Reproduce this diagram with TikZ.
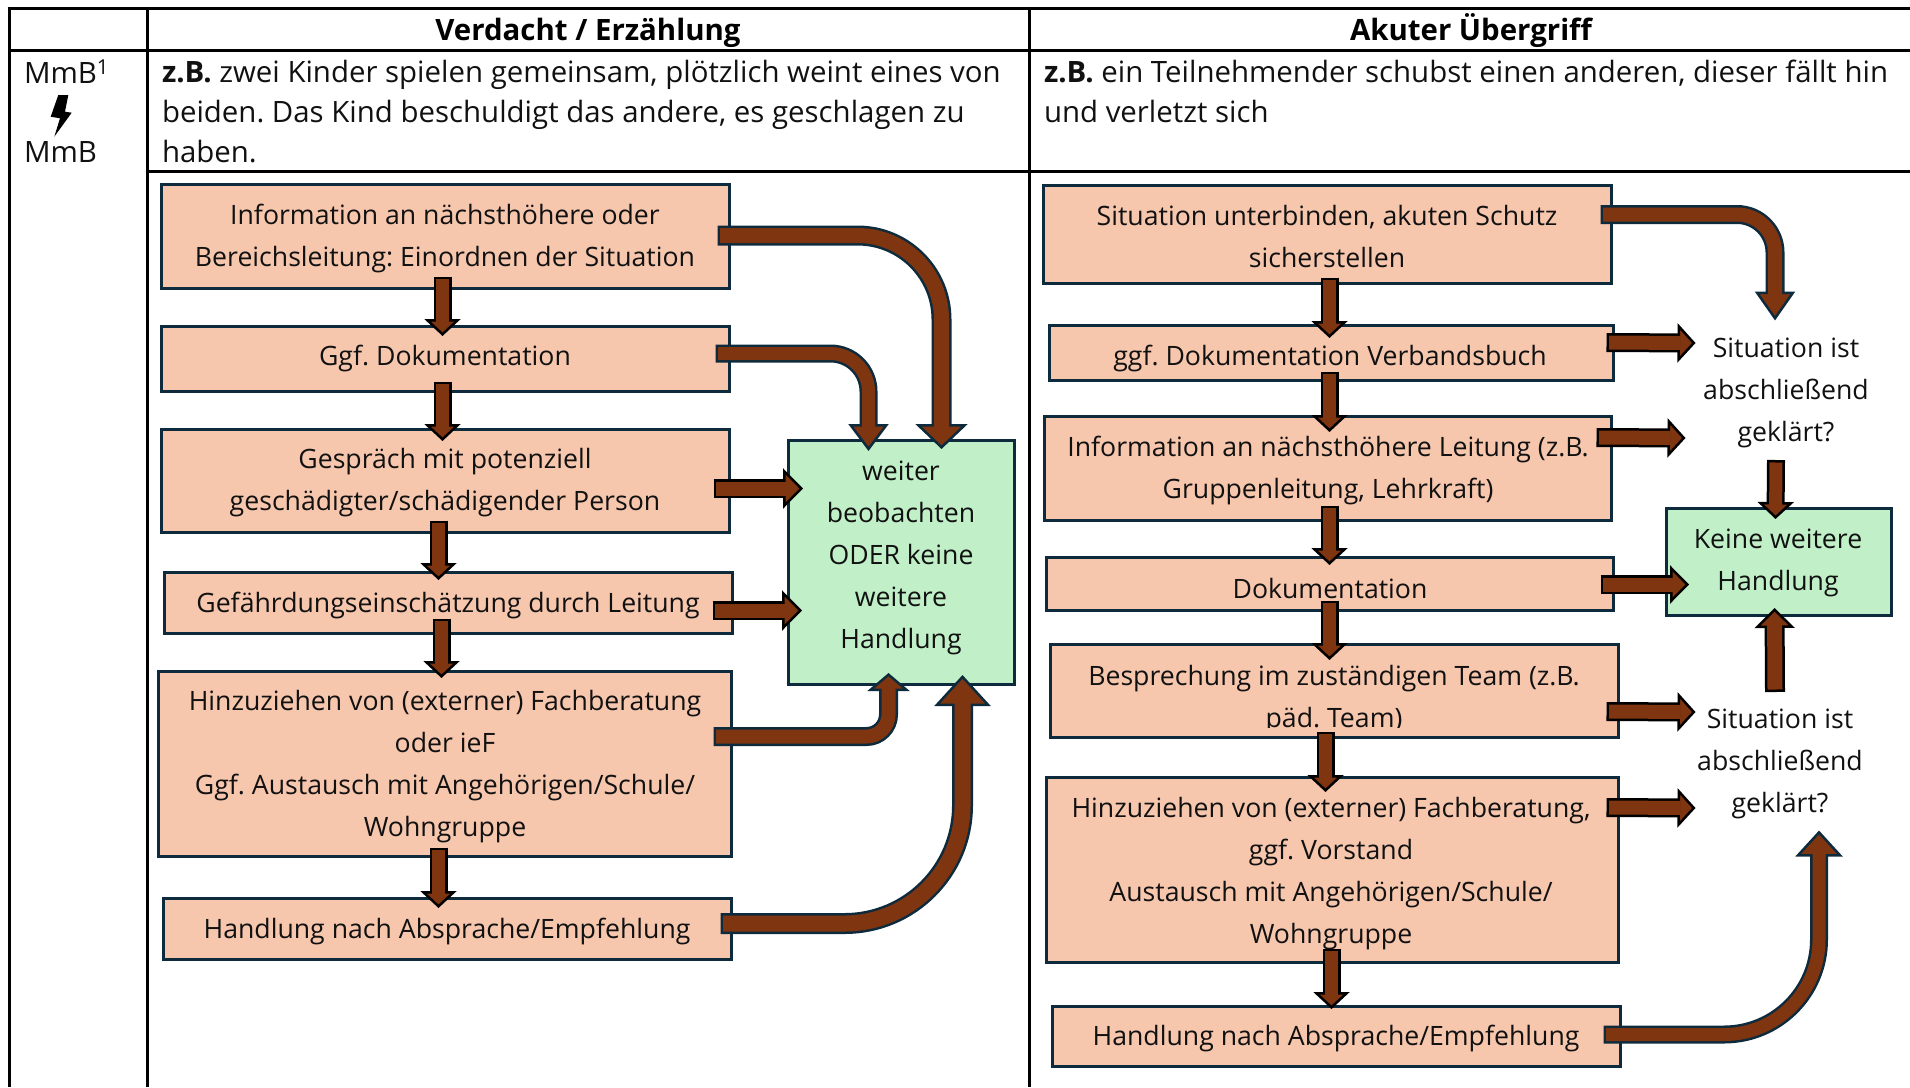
\documentclass[tikz,border=0pt]{standalone}
\usepackage{fontspec}
\setmainfont{Open Sans}
\usetikzlibrary{arrows.meta}
\definecolor{boxfill}{HTML}{F6C6AD}
\definecolor{greenfill}{HTML}{C1F0C8}
\definecolor{edgeblue}{HTML}{0E2B3D}
\definecolor{arrowbrown}{HTML}{7F3510}
\definecolor{inktext}{HTML}{111111}
\tikzset{
  x=1pt,y=-1pt,
  tline/.style={draw=black,line width=3pt},
  pbox/.style={draw=edgeblue,line width=3pt,fill=boxfill,inner sep=0pt,outer sep=.5pt},
  gbox/.style={draw=edgeblue,line width=3pt,fill=greenfill,inner sep=0pt,outer sep=.5pt},
  txt/.style={inner sep=0pt,outer sep=0pt,align=center,text=inktext,font=\fontsize{26.65}{42}\selectfont},
  ltxt/.style={inner sep=0pt,outer sep=0pt,align=left,text=inktext,font=\fontsize{29.4}{40}\selectfont},
  htxt/.style={inner sep=0pt,outer sep=0pt,text=black,text height=22pt,text depth=6pt,font=\fontsize{29.4}{40}\selectfont\bfseries},
}
\newcommand{\bx}[6]{%
  \pgfmathsetmacro\cxv{(#3+#5-1)/2}\pgfmathsetmacro\cyv{(#4+#6-1)/2}%
  \pgfmathsetmacro\wv{#5-#3-1}\pgfmathsetmacro\hv{#6-#4-1}%
  \node[#2,minimum width=\wv pt,minimum height=\hv pt] (#1) at (\cxv,\cyv) {};}
% \barrow[edge colour]{outer width}{head width}{head length}{path}
\newcommand{\barrow}[5][edgeblue]{%
  \pgfmathsetmacro\innerw{#2-5}\pgfmathsetmacro\innerL{#4-4.5}%
  \draw[draw=#1,line width=#2pt,shorten >=-1.5pt,
    -{Triangle[length=#4pt 0 0,width=#3pt 0 0,fill=arrowbrown,color=#1,line width=2.5pt]}] #5;
  \draw[draw=arrowbrown,line width=\innerw pt,shorten <=2.5pt,shorten >=\innerL pt] #5;}
\begin{document}
\frenchspacing
\begin{tikzpicture}
\useasboundingbox (0,0) rectangle (1910,1087);
% table
\draw[tline] (9,8) -- (9,1087);
\draw[tline] (147,8) -- (147,1087);
\draw[tline] (1029,8) -- (1029,1087);
\draw[tline] (7.5,8) -- (1910,8);
\draw[tline] (9,50) -- (1910,50);
\draw[tline] (147,171) -- (1910,171);
\node[htxt] (h1) at (588,32) {Verdacht / Erzählung};
\node[htxt] (h2) at (1471,32) {Akuter Übergriff};
\node[ltxt,anchor=west] (m1) at (24,72) {MmB\textsuperscript{1}};
\node[ltxt,anchor=west] (m2) at (24,152) {MmB};
\fill[black] (58.3,95) -- (68.3,95) -- (65,111.7) -- (71.7,112.7) -- (54.3,136.7) -- (60,118.3) -- (50.7,116.7) -- cycle;
\node[ltxt,anchor=north west] (d1) at (162,60) {\textbf{z.B.} zwei Kinder spielen gemeinsam, plötzlich weint eines von\\beiden. Das Kind beschuldigt das andere, es geschlagen zu\\haben.};
\node[ltxt,anchor=north west] (d2) at (1044,60) {\textbf{z.B.} ein Teilnehmender schubst einen anderen, dieser fällt hin\\und verletzt sich};
% left boxes
\bx{b1}{pbox}{161}{184}{730}{289}
\bx{b2}{pbox}{161}{326}{730}{392}
\bx{b3}{pbox}{161}{429}{730}{533}
\bx{b4}{pbox}{164}{572}{733}{634}
\bx{b5}{pbox}{158}{671}{732}{857}
\bx{b6}{pbox}{163}{898}{732}{960}
\bx{g1}{gbox}{788}{440}{1015}{685}
\node[txt] (tb1) at (445,238.4) {Information an nächsthöhere oder\\Bereichsleitung: Einordnen der Situation};
\node[txt] (tb2) at (445,358.4) {Ggf. Dokumentation};
\node[txt] (tb3) at (445,483) {Gespräch mit potenziell\\geschädigter/schädigender Person};
\node[txt] (tb4) at (448,605.4) {Gefährdungseinschätzung durch Leitung};
\node[txt] (tb5) at (445,766.6) {Hinzuziehen von (externer) Fachberatung\\oder ieF\\Ggf. Austausch mit Angehörigen/Schule/\\Wohngruppe};
\node[txt] (tb6) at (447,931.4) {Handlung nach Absprache/Empfehlung};
\node[txt] (tg1) at (901,557.6) {weiter\\beobachten\\ODER keine\\weitere\\Handlung};
% right boxes
\bx{r1}{pbox}{1043}{185}{1612}{284}
\bx{r2}{pbox}{1049}{325}{1614}{381}
\bx{r3}{pbox}{1044}{416}{1612}{521}
\bx{r4}{pbox}{1046}{557}{1614}{611}
\bx{r5}{pbox}{1050}{644}{1619}{738}
\bx{r6}{pbox}{1046}{777}{1619}{963}
\bx{r7}{pbox}{1052}{1006}{1621}{1067}
\bx{g2}{gbox}{1666}{508}{1892}{616}
\node[txt] (tr1) at (1327,237) {Situation unterbinden, akuten Schutz\\sicherstellen};
\node[txt] (tr2) at (1330,358.4) {ggf. Dokumentation Verbandsbuch};
\node[txt] (tr3) at (1328,470.6) {Information an nächsthöhere Leitung (z.B.\\Gruppenleitung, Lehrkraft)};
\node[txt] (tr4) at (1330,588) {Dokumentation};
\node[txt] (tr5) at (1334,699.6) {Besprechung im zuständigen Team (z.B.\\päd. Team)};
\fill[boxfill] (1052,728) rectangle (1616,735.5);
\node[txt] (tr6) at (1331,873.6) {Hinzuziehen von (externer) Fachberatung,\\ggf. Vorstand\\Austausch mit Angehörigen/Schule/\\Wohngruppe};
\node[txt] (tr7) at (1336,1038.6) {Handlung nach Absprache/Empfehlung};
\node[txt] (tg2) at (1778,563) {Keine weitere\\Handlung};
\node[txt] (q1) at (1786,392.6) {Situation ist\\abschließend\\geklärt?};
\node[txt] (q2) at (1780,764) {Situation ist\\abschließend\\geklärt?};
% left arrows
\barrow{20}{52}{25}{[rounded corners=84pt] ([shift={(-12,-.5)}]b1.east) -| ([shift={(40.5,8)}]g1.north)}
\barrow{18}{40}{27}{[rounded corners=38pt] ([shift={(-14,-5)}]b2.east) -| ([shift={(-32.5,10)}]g1.north)}
\barrow[black]{19}{40}{20}{([shift={(-16,8)}]b3.east) -- ([shift={(14,-73.5)}]g1.west)}
\barrow[black]{19}{40}{20}{([shift={(-20,8)}]b4.east) -- ([shift={(13,48.5)}]g1.west)}
\barrow{19}{42}{18}{[rounded corners=22pt] ([shift={(-18,-27)}]b5.east) -| ([shift={(-12.5,-10)}]g1.south)}
\barrow{21}{56}{31}{[rounded corners=118pt] ([shift={(-11,-5)}]b6.east) -| ([shift={(61.5,-8)}]g1.south)}
\barrow[black]{18}{36}{17}{([shift={(-2.5,-12)}]b1.south) -- ([shift={(-2.5,9)}]b2.north)}
\barrow[black]{18}{36}{17}{([shift={(-2.5,-10)}]b2.south) -- ([shift={(-2.5,11)}]b3.north)}
\barrow[black]{18}{36}{17}{([shift={(-6.5,-12)}]b3.south) -- ([shift={(-9.5,7)}]b4.north)}
\barrow[black]{18}{36}{17}{([shift={(-6.5,-15)}]b4.south) -- ([shift={(-3,6)}]b5.north)}
\barrow[black]{18}{36}{17}{([shift={(-6,-9)}]b5.south) -- ([shift={(-8.5,9)}]b6.north)}
% right arrows
\barrow[black]{18}{36}{17}{([shift={(2.5,-6)}]r1.south) -- ([shift={(-1.5,12)}]r2.north)}
\barrow[black]{18}{36}{17}{([shift={(-1.5,-9)}]r2.south) -- ([shift={(2,15)}]r3.north)}
\barrow[black]{18}{36}{17}{([shift={(2,-15)}]r3.south) -- ([shift={(0,7)}]r4.north)}
\barrow[black]{18}{36}{17}{([shift={(0,-10)}]r4.south) -- ([shift={(-4.5,15)}]r5.north)}
\barrow[black]{18}{36}{17}{([shift={(-8.5,-6)}]r5.south) -- ([shift={(-6.5,14)}]r6.north)}
\barrow[black]{18}{36}{17}{([shift={(-.5,-14)}]r6.south) -- ([shift={(-4.5,2)}]r7.north)}
\barrow{19}{40}{29}{[rounded corners=38pt] ([shift={(-11,-19.5)}]r1.east) -| ([shift={(-11,-73.6)}]q1.center)}
\barrow[black]{19}{39}{18}{([shift={(-7,-10)}]r2.east) -- ([shift={(-92,-49.6)}]q1.center)}
\barrow[black]{19}{39}{18}{([shift={(-15,-30.5)}]r3.east) -- ([shift={(-102,45.4)}]q1.center)}
\barrow[black]{19}{38}{19}{([shift={(-13,1)}]r4.east) -- ([shift={(22,23)}]g2.west)}
\barrow[black]{19}{39}{18}{([shift={(-12,21)}]r5.east) -- ([shift={(-86,-52)}]q2.center)}
\barrow[black]{19}{39}{18}{([shift={(-12,-62)}]r6.east) -- ([shift={(-86,44)}]q2.center)}
\barrow{18}{47}{26}{[rounded corners=95pt] ([shift={(-17,-1.5)}]r7.east) -| ([shift={(39,68)}]q2.center)}
\barrow[black]{18}{36}{17}{([shift={(-10,67.4)}]q1.center) -- ([shift={(-3,10)}]g2.north)}
\barrow[black]{20}{40}{20}{([shift={(-5,-72)}]q2.center) -- ([shift={(-4,-6)}]g2.south)}
\end{tikzpicture}
\end{document}
